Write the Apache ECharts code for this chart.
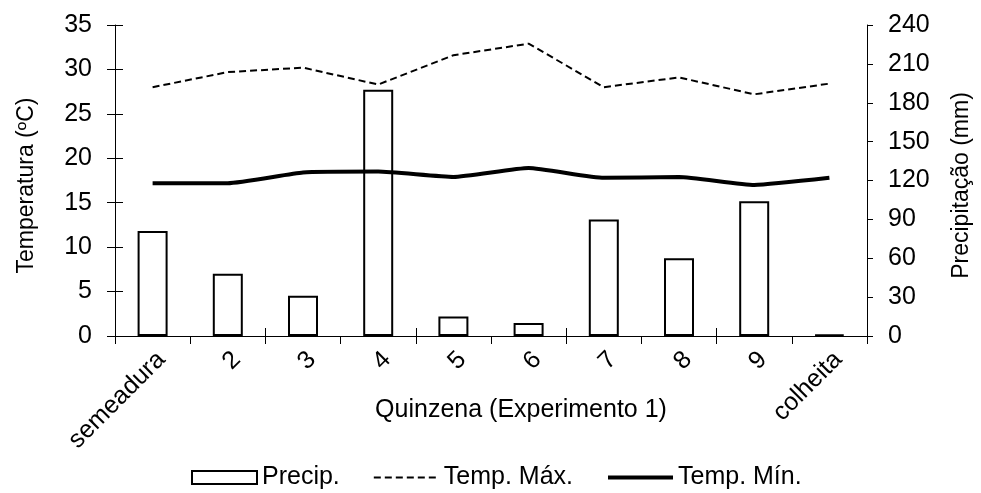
<!DOCTYPE html>
<html>
<head>
<meta charset="utf-8">
<script src="https://cdn.jsdelivr.net/npm/echarts@6/dist/echarts.min.js"></script>
<style>html,body{margin:0;padding:0;background:#fff}#c{width:981px;height:493px}</style>
</head>
<body>
<div id="c"></div>
<script>
const categories = ['semeadura','2','3','4','5','6','7','8','9','colheita'];
const precip = [81, 48, 31, 190, 15, 10, 90, 60, 104, 1];
const tempMax = [28.0, 29.7, 30.2, 28.3, 31.6, 32.9, 28.0, 29.1, 27.2, 28.4];
const tempMin = [17.2, 17.2, 18.4, 18.5, 17.9, 18.9, 17.8, 17.9, 17.0, 17.8];
const leftTicks = [0, 35, 5];
const rightTicks = [0, 240, 30];

const FONT = '"Liberation Sans", Arial, sans-serif';
const FS = 25;
const chart = echarts.init(document.getElementById('c'), null, {renderer: 'canvas'});
const axisLine = {show: true, lineStyle: {color: '#000', width: 1}};
chart.setOption({
  animation: false,
  backgroundColor: '#fff',
  textStyle: {fontFamily: FONT, color: '#000'},
  grid: {left: 115, right: 107, top: 25, bottom: 157, containLabel: false},
  legend: {
    top: 460, left: 186,
    itemWidth: 65, itemHeight: 13, itemGap: 33,
    textStyle: {fontFamily: FONT, fontSize: FS, color: '#000'},
    data: [
      {name: 'Precip.', icon: 'rect'},
      {name: 'Temp. Máx.', itemStyle: {opacity: 0}, lineStyle: {width: 2}},
      {name: 'Temp. Mín.', itemStyle: {opacity: 0}, lineStyle: {width: 4}}
    ]
  },
  xAxis: [{
    type: 'category', data: categories, position: 'bottom',
    axisLine: axisLine,
    axisTick: {show: true, length: 8, lineStyle: {color: '#000'}},
    axisLabel: {rotate: 45, margin: 11, verticalAlign: 'top', fontSize: FS, color: '#000', fontFamily: FONT, interval: 0},
    name: 'Quinzena (Experimento 1)', nameLocation: 'middle', nameGap: 62, nameMoveOverlap: false,
    nameTextStyle: {fontSize: FS, color: '#000', fontFamily: FONT, padding: [0, 0, 0, 60]}
  }, {
    type: 'category', data: categories, position: 'bottom',
    axisLine: {show: false},
    axisTick: {show: true, inside: true, length: 8, lineStyle: {color: '#000'}},
    axisLabel: {show: false}
  }],
  yAxis: [{
    type: 'value', position: 'left', min: leftTicks[0], max: leftTicks[1], interval: leftTicks[2],
    axisLine: axisLine, splitLine: {show: false},
    axisTick: {show: true, length: 8, lineStyle: {color: '#000'}},
    axisLabel: {fontSize: FS, color: '#000', fontFamily: FONT, margin: 23},
    name: 'Temperatura (ºC)', nameLocation: 'middle', nameGap: 77, nameRotate: 90, nameMoveOverlap: false,
    nameTextStyle: {fontSize: 23, color: '#000', fontFamily: FONT, padding: [0, 10, 0, 0]}
  }, {
    type: 'value', position: 'right', min: rightTicks[0], max: rightTicks[1], interval: rightTicks[2],
    axisLine: axisLine, splitLine: {show: false},
    axisTick: {show: true, length: 6, lineStyle: {color: '#000'}},
    axisLabel: {fontSize: FS, color: '#000', fontFamily: FONT, margin: 21},
    name: 'Precipitação (mm)', nameLocation: 'middle', nameGap: 83, nameRotate: 90, nameMoveOverlap: false,
    nameTextStyle: {fontSize: 23, color: '#000', fontFamily: FONT, padding: [0, 10, 0, 0]}
  }, {
    type: 'value', position: 'left', min: leftTicks[0], max: leftTicks[1], interval: leftTicks[2],
    axisLine: {show: false}, splitLine: {show: false},
    axisTick: {show: true, inside: true, length: 8, lineStyle: {color: '#000'}},
    axisLabel: {show: false}
  }],
  series: [{
    name: 'Precip.', type: 'bar', yAxisIndex: 1, data: precip, barWidth: 30,
    itemStyle: {color: '#fff', borderColor: '#000', borderWidth: 2}
  }, {
    name: 'Temp. Máx.', type: 'line', yAxisIndex: 0, data: tempMax,
    symbol: 'none', showSymbol: false,
    lineStyle: {color: '#000', width: 2, type: [7, 4]},
    itemStyle: {color: '#000'}
  }, {
    name: 'Temp. Mín.', type: 'line', yAxisIndex: 0, data: tempMin,
    symbol: 'none', showSymbol: false, smooth: 0.15,
    lineStyle: {color: '#000', width: 4},
    itemStyle: {color: '#000'}
  }]
});
</script>
</body>
</html>
